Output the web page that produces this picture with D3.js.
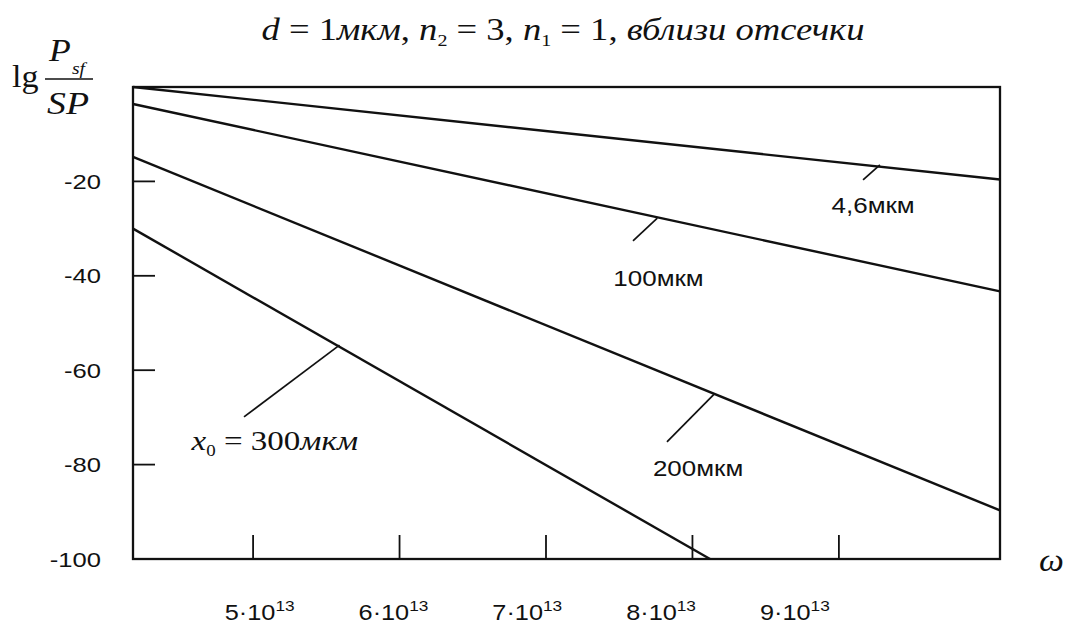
<!DOCTYPE html>
<html lang="ru">
<head>
    <meta charset="UTF-8">
    <title>lg Psf/SP vs omega</title>
    <script src="https://d3js.org/d3.v7.min.js"></script>
    <style>
        body {
            margin: 0;
            background: #fff;
        }

        .serif {
            font-family: "Liberation Serif", "Times New Roman", serif;
            fill: #111;
        }

        .sans {
            font-family: "Liberation Sans", Arial, sans-serif;
            fill: #111;
        }
    </style>
</head>
<body>
    <script>
        // data (omega in units of 10^13)
        const omegaDomain = [4.18, 10.1];
        const lgDomain = [-100, 0];
        const xTicks = [5, 6, 7, 8, 9];
        const yTicks = [-20, -40, -60, -80];
        const yTickLabels = [-20, -40, -60, -80, -100];

        const curveNames = ['4,6мкм', '100мкм', '200мкм', '300мкм'];
        const curveOmega = [[4.18, 10.1], [4.18, 10.1], [4.18, 10.1], [4.18, 8.12]];
        const curveLg = [[0, -19.6], [-3.6, -43.3], [-14.8, -89.7], [-30, -100]];

        // leader lines: [omega, lg] from the curve to the label
        const leaderFrom = [[9.28, -16.5], [7.76, -27.8], [8.15, -65.0], [5.59, -54.7]];
        const leaderTo = [[9.165, -19.7], [7.594, -32.6], [7.826, -75.2], [4.938, -69.9]];
        const labelAt = [[8.95, -26.7], [7.46, -42.2], [7.73, -82.4], [4.58, -76.9]];

        const width = 1066;
        const height = 629;
        const margin = { top: 87, right: 66, bottom: 70, left: 133 };
        const stretch = 1.18; // the scan is a bit wider than tall

        const svg = d3.select('body')
            .append('svg')
            .attr('width', width)
            .attr('height', height);

        const x = d3.scaleLinear()
            .domain(omegaDomain)
            .range([margin.left, width - margin.right]);

        // the printed tick labels sit a bit off the tick marks
        const xLabel = d3.scaleLinear()
            .domain(omegaDomain)
            .range([150, 942]);

        const y = d3.scaleLinear()
            .domain(lgDomain)
            .range([height - margin.bottom, margin.top]);

        // text placed at (px, py) and widened horizontally
        function addText(parent, px, py, cls, size, sx) {
            return parent.append('text')
                .attr('class', cls)
                .attr('transform', `translate(${px},${py}) scale(${sx || stretch},1)`)
                .style('font-size', size + 'px');
        }

        // title
        const title = addText(svg, 563, 40, 'serif', 31)
            .attr('text-anchor', 'middle');

        const titleParts = [
            { t: 'd', i: true },
            { t: ' = 1' },
            { t: 'мкм', i: true },
            { t: ', ' },
            { t: 'n', i: true },
            { t: '2', sub: true },
            { t: ' = 3, ' },
            { t: 'n', i: true },
            { t: '1', sub: true },
            { t: ' = 1, ' },
            { t: 'вблизи отсечки', i: true }
        ];
        let shifted = false;
        titleParts.forEach(p => {
            const span = title.append('tspan').text(p.t);
            if (p.i) span.style('font-style', 'italic');
            if (p.sub) {
                span.attr('dy', 6).style('font-size', '17px');
                shifted = true;
            } else if (shifted) {
                span.attr('dy', -6);
                shifted = false;
            }
        });

        // y axis label: lg Psf / SP
        addText(svg, 12, 87, 'serif', 31, 1.1).text('lg');
        const num = addText(svg, 49, 61, 'serif', 31, 1.15)
            .style('font-style', 'italic');
        num.append('tspan').text('P');
        num.append('tspan').attr('dx', 1).attr('dy', 13).style('font-size', '17px').text('sf');
        svg.append('line')
            .attr('x1', 45).attr('x2', 93)
            .attr('y1', 79).attr('y2', 79)
            .attr('stroke', '#111')
            .attr('stroke-width', 1.4);
        addText(svg, 47, 114, 'serif', 31, 1.22)
            .style('font-style', 'italic')
            .text('SP');

        // frame
        svg.append('rect')
            .attr('x', x.range()[0])
            .attr('y', y.range()[1])
            .attr('width', x.range()[1] - x.range()[0])
            .attr('height', y.range()[0] - y.range()[1])
            .attr('fill', 'none')
            .attr('stroke', '#111')
            .attr('stroke-width', 2.3);

        // inward ticks
        svg.selectAll('.xtick')
            .data(xTicks)
            .enter().append('line')
            .attr('class', 'xtick')
            .attr('x1', d => x(d)).attr('x2', d => x(d))
            .attr('y1', y(-100)).attr('y2', y(-100) - 24)
            .attr('stroke', '#111')
            .attr('stroke-width', 1.8);

        svg.selectAll('.ytick')
            .data(yTicks)
            .enter().append('line')
            .attr('class', 'ytick')
            .attr('x1', x.range()[0]).attr('x2', x.range()[0] + 22)
            .attr('y1', d => y(d)).attr('y2', d => y(d))
            .attr('stroke', '#111')
            .attr('stroke-width', 1.8);

        // tick labels
        yTickLabels.forEach(v => {
            addText(svg, 101, y(v), 'sans', 21, 1.22)
                .attr('dy', '0.36em')
                .attr('text-anchor', 'end')
                .text(v);
        });

        xTicks.forEach(v => {
            const t = addText(svg, xLabel(v), 620, 'sans', 22, 1.15)
                .attr('text-anchor', 'middle');
            t.append('tspan').text(v + '·10');
            t.append('tspan').attr('dy', -9).style('font-size', '15px').text('13');
        });

        addText(svg, 1039, 571, 'serif', 32, 1.1)
            .style('font-style', 'italic')
            .text('ω');

        // curves
        const line = d3.line()
            .x(d => x(d[0]))
            .y(d => y(d[1]));

        curveNames.forEach((name, i) => {
            const pts = curveOmega[i].map((w, j) => [w, curveLg[i][j]]);
            svg.append('path')
                .datum(pts)
                .attr('fill', 'none')
                .attr('stroke', '#111')
                .attr('stroke-width', 2.4)
                .attr('d', line);

            svg.append('path')
                .datum([leaderFrom[i], leaderTo[i]])
                .attr('fill', 'none')
                .attr('stroke', '#111')
                .attr('stroke-width', 1.7)
                .attr('d', line);
        });

        // curve labels
        curveNames.slice(0, 3).forEach((name, i) => {
            addText(svg, x(labelAt[i][0]), y(labelAt[i][1]), 'sans', 22)
                .text(name);
        });

        const lab300 = addText(svg, x(labelAt[3][0]), y(labelAt[3][1]), 'serif', 28);
        lab300.append('tspan').style('font-style', 'italic').text('x');
        lab300.append('tspan').attr('dy', 6).style('font-size', '16px').text('0');
        lab300.append('tspan').attr('dy', -6).text(' = 300');
        lab300.append('tspan').style('font-style', 'italic').text('мкм');
    </script>
</body>
</html>
